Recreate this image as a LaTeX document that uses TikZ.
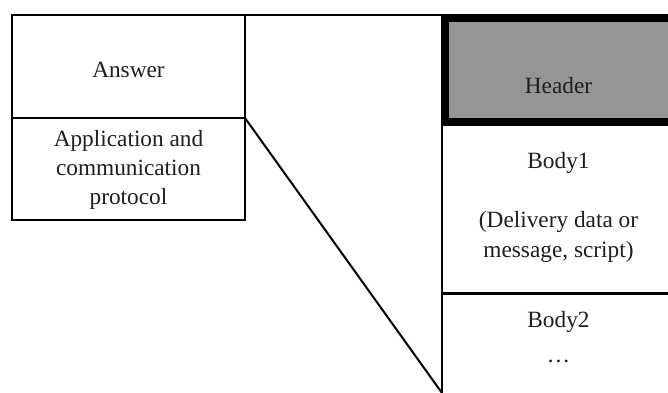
\documentclass[tikz,border=0pt]{standalone}
\usepackage{fontspec}
\setmainfont{Liberation Serif}
\definecolor{hdrgray}{RGB}{149,149,149}
\definecolor{inkcol}{RGB}{30,30,30}
\tikzset{
  x=1pt, y=-1pt,
  cell/.style={draw, line width=2.4pt, inner sep=0pt, outer sep=0pt},
  hdrbox/.style={draw, line width=8pt, fill=hdrgray, inner sep=0pt, outer sep=0pt},
  link/.style={line width=2pt},
  txt/.style={inner sep=0pt, outer sep=0pt, anchor=base, align=center, text=inkcol,
    font=\fontsize{23.3pt}{29pt}\selectfont},
}
\begin{document}
\begin{tikzpicture}
\useasboundingbox (0,0) rectangle (668,392);
\clip (0,0) rectangle (668,392);

% left stack
\node[cell, minimum width=233pt, minimum height=103pt] (ans) at (128.5,66.5) {};
\node[cell, minimum width=233pt, minimum height=102pt] (proto) at (128.5,169) {};

% right stack (runs past the right and bottom edges)
\node[cell, minimum width=248pt, minimum height=171.5pt] (body1) at (566,207.75) {};
\node[cell, minimum width=248pt, minimum height=106.5pt] (body2) at (566,346.75) {};
\node[hdrbox, minimum width=245pt, minimum height=104pt] (header) at (567.5,70) {};

% labels (base anchor = baseline of the last line)
\node[txt] (ansT) at (128.5,77) {Answer};
\node[txt] (protoT) at (128.5,204) {Application and\\communication\\protocol};
\node[txt] (headerT) at (558.5,93) {Header};
\node[txt, font=\fontsize{23.3pt}{30pt}\selectfont] (body1T) at (558.5,257)
  {Body1\\[29pt](Delivery data or\\message, script)};
\node[txt, font=\fontsize{23.3pt}{30pt}\selectfont] (body2T) at (558.5,362)
  {Body2\\[5pt]…};

% zoom lines
\coordinate (tip) at (442,393);
\draw[link] (ans.north east) -- (ans.north east -| header.west);
\draw[link] (proto.north east) -- (tip);
\end{tikzpicture}
\end{document}
